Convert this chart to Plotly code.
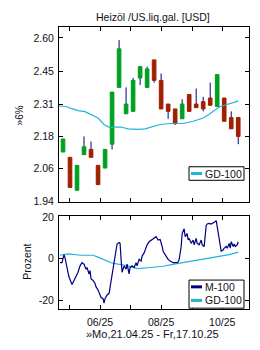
import math
import pandas as pd
import plotly.graph_objects as go

# ---------------- data ----------------
START = pd.Timestamp("2025-04-21")

week_dates = ["2025-04-25", "2025-05-02", "2025-05-09", "2025-05-16", "2025-05-23", "2025-05-30",
              "2025-06-06", "2025-06-13", "2025-06-20", "2025-06-27", "2025-07-04", "2025-07-11",
              "2025-07-18", "2025-07-25", "2025-08-01", "2025-08-08", "2025-08-15", "2025-08-22",
              "2025-08-29", "2025-09-05", "2025-09-12", "2025-09-19", "2025-09-26", "2025-10-03",
              "2025-10-10", "2025-10-17"]
opens = [2.12, 2.10, 1.98, 2.11, 2.13, 2.07, 2.06, 2.15, 2.38, 2.27, 2.28, 2.42, 2.38,
         2.50, 2.41, 2.31, 2.29, 2.25, 2.35, 2.31, 2.32, 2.335, 2.30, 2.335, 2.255, 2.255]
closes = [2.17, 1.99, 2.07, 2.14, 2.10, 2.00, 2.13, 2.36, 2.55, 2.31, 2.41, 2.47, 2.46,
          2.41, 2.29, 2.28, 2.23, 2.31, 2.28, 2.295, 2.29, 2.305, 2.435, 2.24, 2.21, 2.18]
highs = [2.17, 2.10, 2.07, 2.18, 2.16, 2.07, 2.13, 2.36, 2.59, 2.38, 2.42, 2.47, 2.47,
         2.50, 2.44, 2.31, 2.29, 2.33, 2.35, 2.375, 2.34, 2.40, 2.435, 2.335, 2.28, 2.255]
lows = [2.12, 1.99, 1.98, 2.11, 2.10, 2.00, 2.06, 2.13, 2.38, 2.27, 2.28, 2.39, 2.38,
        2.40, 2.29, 2.25, 2.225, 2.25, 2.28, 2.295, 2.28, 2.305, 2.30, 2.24, 2.21, 2.15]

gd_top_days = [0, 7, 12, 19, 26, 32, 39, 45, 51, 56, 62, 69, 79, 86, 92, 99, 101, 111, 124,
               134, 144, 150, 155, 160, 166, 172, 179]
gd_top_vals = [2.302, 2.300, 2.292, 2.283, 2.279, 2.268, 2.253, 2.227, 2.214, 2.217, 2.217,
               2.210, 2.208, 2.210, 2.218, 2.227, 2.227, 2.231, 2.231, 2.240, 2.253, 2.268,
               2.284, 2.298, 2.306, 2.312, 2.322]

m100_days = [1, 3, 5, 6, 8, 10, 12, 13, 15, 17, 19, 21, 23, 25, 27, 28, 30, 31, 32, 34, 36, 37,
             39, 41, 42, 44, 45, 46, 48, 50, 52, 53, 54, 56, 57, 58, 60, 61, 62, 63, 65, 67, 68,
             70, 71, 73, 75, 77, 78, 80, 82, 83, 85, 87, 88, 90, 92, 93, 94, 97, 99, 101, 103,
             104, 106, 108, 109, 111, 113, 114, 118, 119, 120, 122, 123, 125, 126, 128, 129,
             130, 132, 134, 135, 137, 138, 140, 142, 143, 145, 146, 147, 148, 150, 152, 154,
             155, 157, 158, 160, 161, 162, 164, 165, 167, 168, 170, 171, 172, 174, 175, 176,
             178, 179]
m100_vals = [-1.9, -1.9, 2.0, 0.5, -4.2, -8.8, -11.2, -12.4, -10.4, -8.8, -6.5, -3.4, -1.9,
             -2.6, -5.0, -4.2, -7.3, -5.7, -9.6, -10.4, -11.9, -13.5, -15.0, -17.4, -18.6,
             -19.2, -21.3, -19.2, -17.4, -16.6, -10.4, -8.0, -4.2, 1.3, 5.9, 7.1, 7.8, 7.4,
             -0.3, -6.5, -3.4, -5.0, -2.6, -7.3, -4.2, -3.4, -4.2, -1.9, -3.4, -0.3, -1.1, 1.3,
             2.8, 5.9, 6.7, 8.2, 9.0, 9.3, 9.8, 10.6, 9.0, 9.3, 5.9, 3.6, 2.0, 0.5, -0.3, -1.1,
             -1.5, -1.9, -1.9, -1.5, -0.3, 5.9, 12.1, 14.4, 10.6, 12.1, 9.0, 9.8, 7.4, 9.0, 6.7,
             9.8, 7.4, 6.7, 9.0, 6.7, 5.9, 12.1, 16.0, 16.7, 17.0, 16.7, 17.0, 17.5, 18.3, 15.2,
             9.8, 5.9, 3.6, 4.3, 5.1, 5.9, 5.1, 7.4, 5.1, 8.2, 5.9, 7.1, 5.9, 6.7, 8.2]

gd_low_days = [1, 9, 22, 34, 39, 46, 52, 59, 66, 72, 79, 91, 104, 115, 125, 138, 150, 160, 170, 179]
gd_low_vals = [1.7, 2.3, 1.7, 1.7, 0.8, -0.6, -1.9, -2.6, -3.1, -3.9, -4.7, -4.2, -3.6, -2.6,
               -1.7, -0.8, 0.2, 1.2, 2.0, 3.2]

price_ticks = ["1.94", "2.06", "2.18", "2.31", "2.45", "2.60"]
pct_ticks = [-20, 0, 20]
month_ticks = ["2025-05-01", "2025-06-01", "2025-07-01", "2025-08-01", "2025-09-01", "2025-10-01"]
month_labels = ["", "06/25", "", "08/25", "", "10/25"]

title_text = "Heizöl /US.liq.gal. [USD]"
x_title = "»Mo,21.04.25 - Fr,17.10.25"

# ---------------- styles ----------------
W, H = 260, 350
GREEN = "#00a020"
RED = "#a02000"
NAVY = "#000080"
CYAN = "#20b4d8"
TXT = "#101018"
FONT = "Liberation Sans, Arial, sans-serif"


def px(x):
    return x / W


def py(y):
    return 1 - y / H


def to_dates(days):
    return [START + pd.Timedelta(days=d) for d in days]


fig = go.Figure()

mid = [(o + c) / 2 for o, c in zip(opens, closes)]
# wicks
fig.add_trace(go.Candlestick(
    x=week_dates, open=mid, close=mid, high=highs, low=lows,
    increasing=dict(line=dict(color=NAVY, width=1), fillcolor=NAVY),
    decreasing=dict(line=dict(color=NAVY, width=1), fillcolor=NAVY),
    whiskerwidth=0, hoverinfo="skip", showlegend=False, xaxis="x", yaxis="y"))
# bodies
fig.add_trace(go.Candlestick(
    x=week_dates, open=opens, close=closes,
    high=[max(o, c) for o, c in zip(opens, closes)],
    low=[min(o, c) for o, c in zip(opens, closes)],
    increasing=dict(line=dict(color=GREEN, width=1), fillcolor=GREEN),
    decreasing=dict(line=dict(color=RED, width=1), fillcolor=RED),
    whiskerwidth=0, showlegend=False, xaxis="x", yaxis="y"))
fig.add_trace(go.Scatter(x=to_dates(gd_top_days), y=gd_top_vals, mode="lines",
                         line=dict(color=CYAN, width=1.2), name="GD-100", showlegend=False,
                         xaxis="x", yaxis="y"))

fig.add_trace(go.Scatter(x=to_dates(gd_low_days), y=gd_low_vals, mode="lines",
                         line=dict(color=CYAN, width=1.2), name="GD-100", showlegend=False,
                         xaxis="x2", yaxis="y2"))
fig.add_trace(go.Scatter(x=to_dates(m100_days), y=m100_vals, mode="lines",
                         line=dict(color=NAVY, width=1.2), name="M-100", showlegend=False,
                         xaxis="x2", yaxis="y2"))

xr = ["2025-04-21", "2025-10-27 18:00"]
xdom = [px(59), px(249)]
axis_common = dict(showline=True, linecolor="black", linewidth=1, mirror="ticks",
                   ticks="inside", ticklen=4, tickcolor="black", showgrid=False, zeroline=False,
                   tickfont=dict(family=FONT, size=10.5, color=TXT))

fig.update_layout(
    width=W, height=H, margin=dict(l=0, r=0, t=0, b=0),
    paper_bgcolor="white", plot_bgcolor="white", showlegend=False,
    boxgap=0.26,
    font=dict(family=FONT, color=TXT),
    xaxis=dict(domain=xdom, range=xr, anchor="y", type="date", tickvals=month_ticks,
               ticktext=[""] * len(month_ticks), rangeslider=dict(visible=False), **axis_common),
    yaxis=dict(domain=[py(203), py(23)], anchor="x", type="log",
               range=[math.log10(1.94), math.log10(2.60) + 0.0083],
               tickvals=[float(t) for t in price_ticks], ticktext=price_ticks,
               ticklabelstandoff=2, **axis_common),
    xaxis2=dict(domain=xdom, range=xr, anchor="y2", type="date", tickvals=month_ticks,
                ticktext=month_labels, ticklabelstandoff=3, **axis_common),
    yaxis2=dict(domain=[py(314), py(218)], anchor="x2", range=[-24.19, 20.47],
                tickvals=pct_ticks, ticktext=[str(t) for t in pct_ticks],
                ticklabelstandoff=2, **axis_common),
)

ann = [
    dict(text=title_text, x=px(153), y=py(12), size=10.5, angle=0),
    dict(text="»6%", x=px(19), y=py(114), size=10, angle=-90),
    dict(text="Prozent", x=px(27), y=py(265), size=10.5, angle=-90),
    dict(text=x_title, x=px(152), y=py(340), size=11, angle=0),
]
for a in ann:
    fig.add_annotation(text=a["text"], x=a["x"], y=a["y"], xref="paper", yref="paper",
                       showarrow=False, textangle=a["angle"], xanchor="center", yanchor="middle",
                       font=dict(family=FONT, size=a["size"], color=TXT))

# manual legends
legends = [
    dict(box=(189, 167, 244, 181), items=[("GD-100", CYAN, 174)]),
    dict(box=(189, 284, 244, 313), items=[("M-100", NAVY, 291), ("GD-100", CYAN, 305)]),
]
for lg in legends:
    x0, y0, x1, y1 = lg["box"]
    fig.add_shape(type="rect", xref="paper", yref="paper", x0=px(x0), x1=px(x1), y0=py(y1),
                  y1=py(y0), line=dict(color="black", width=1), fillcolor="white", layer="above")
    for name, col, yy in lg["items"]:
        fig.add_shape(type="line", xref="paper", yref="paper", x0=px(191), x1=px(202),
                      y0=py(yy), y1=py(yy), line=dict(color=col, width=3), layer="above")
        fig.add_annotation(text=name, x=px(203), y=py(yy), xref="paper", yref="paper",
                           showarrow=False, xanchor="left", yanchor="middle",
                           font=dict(family=FONT, size=10.5, color=TXT))

fig.write_html("out.html")
